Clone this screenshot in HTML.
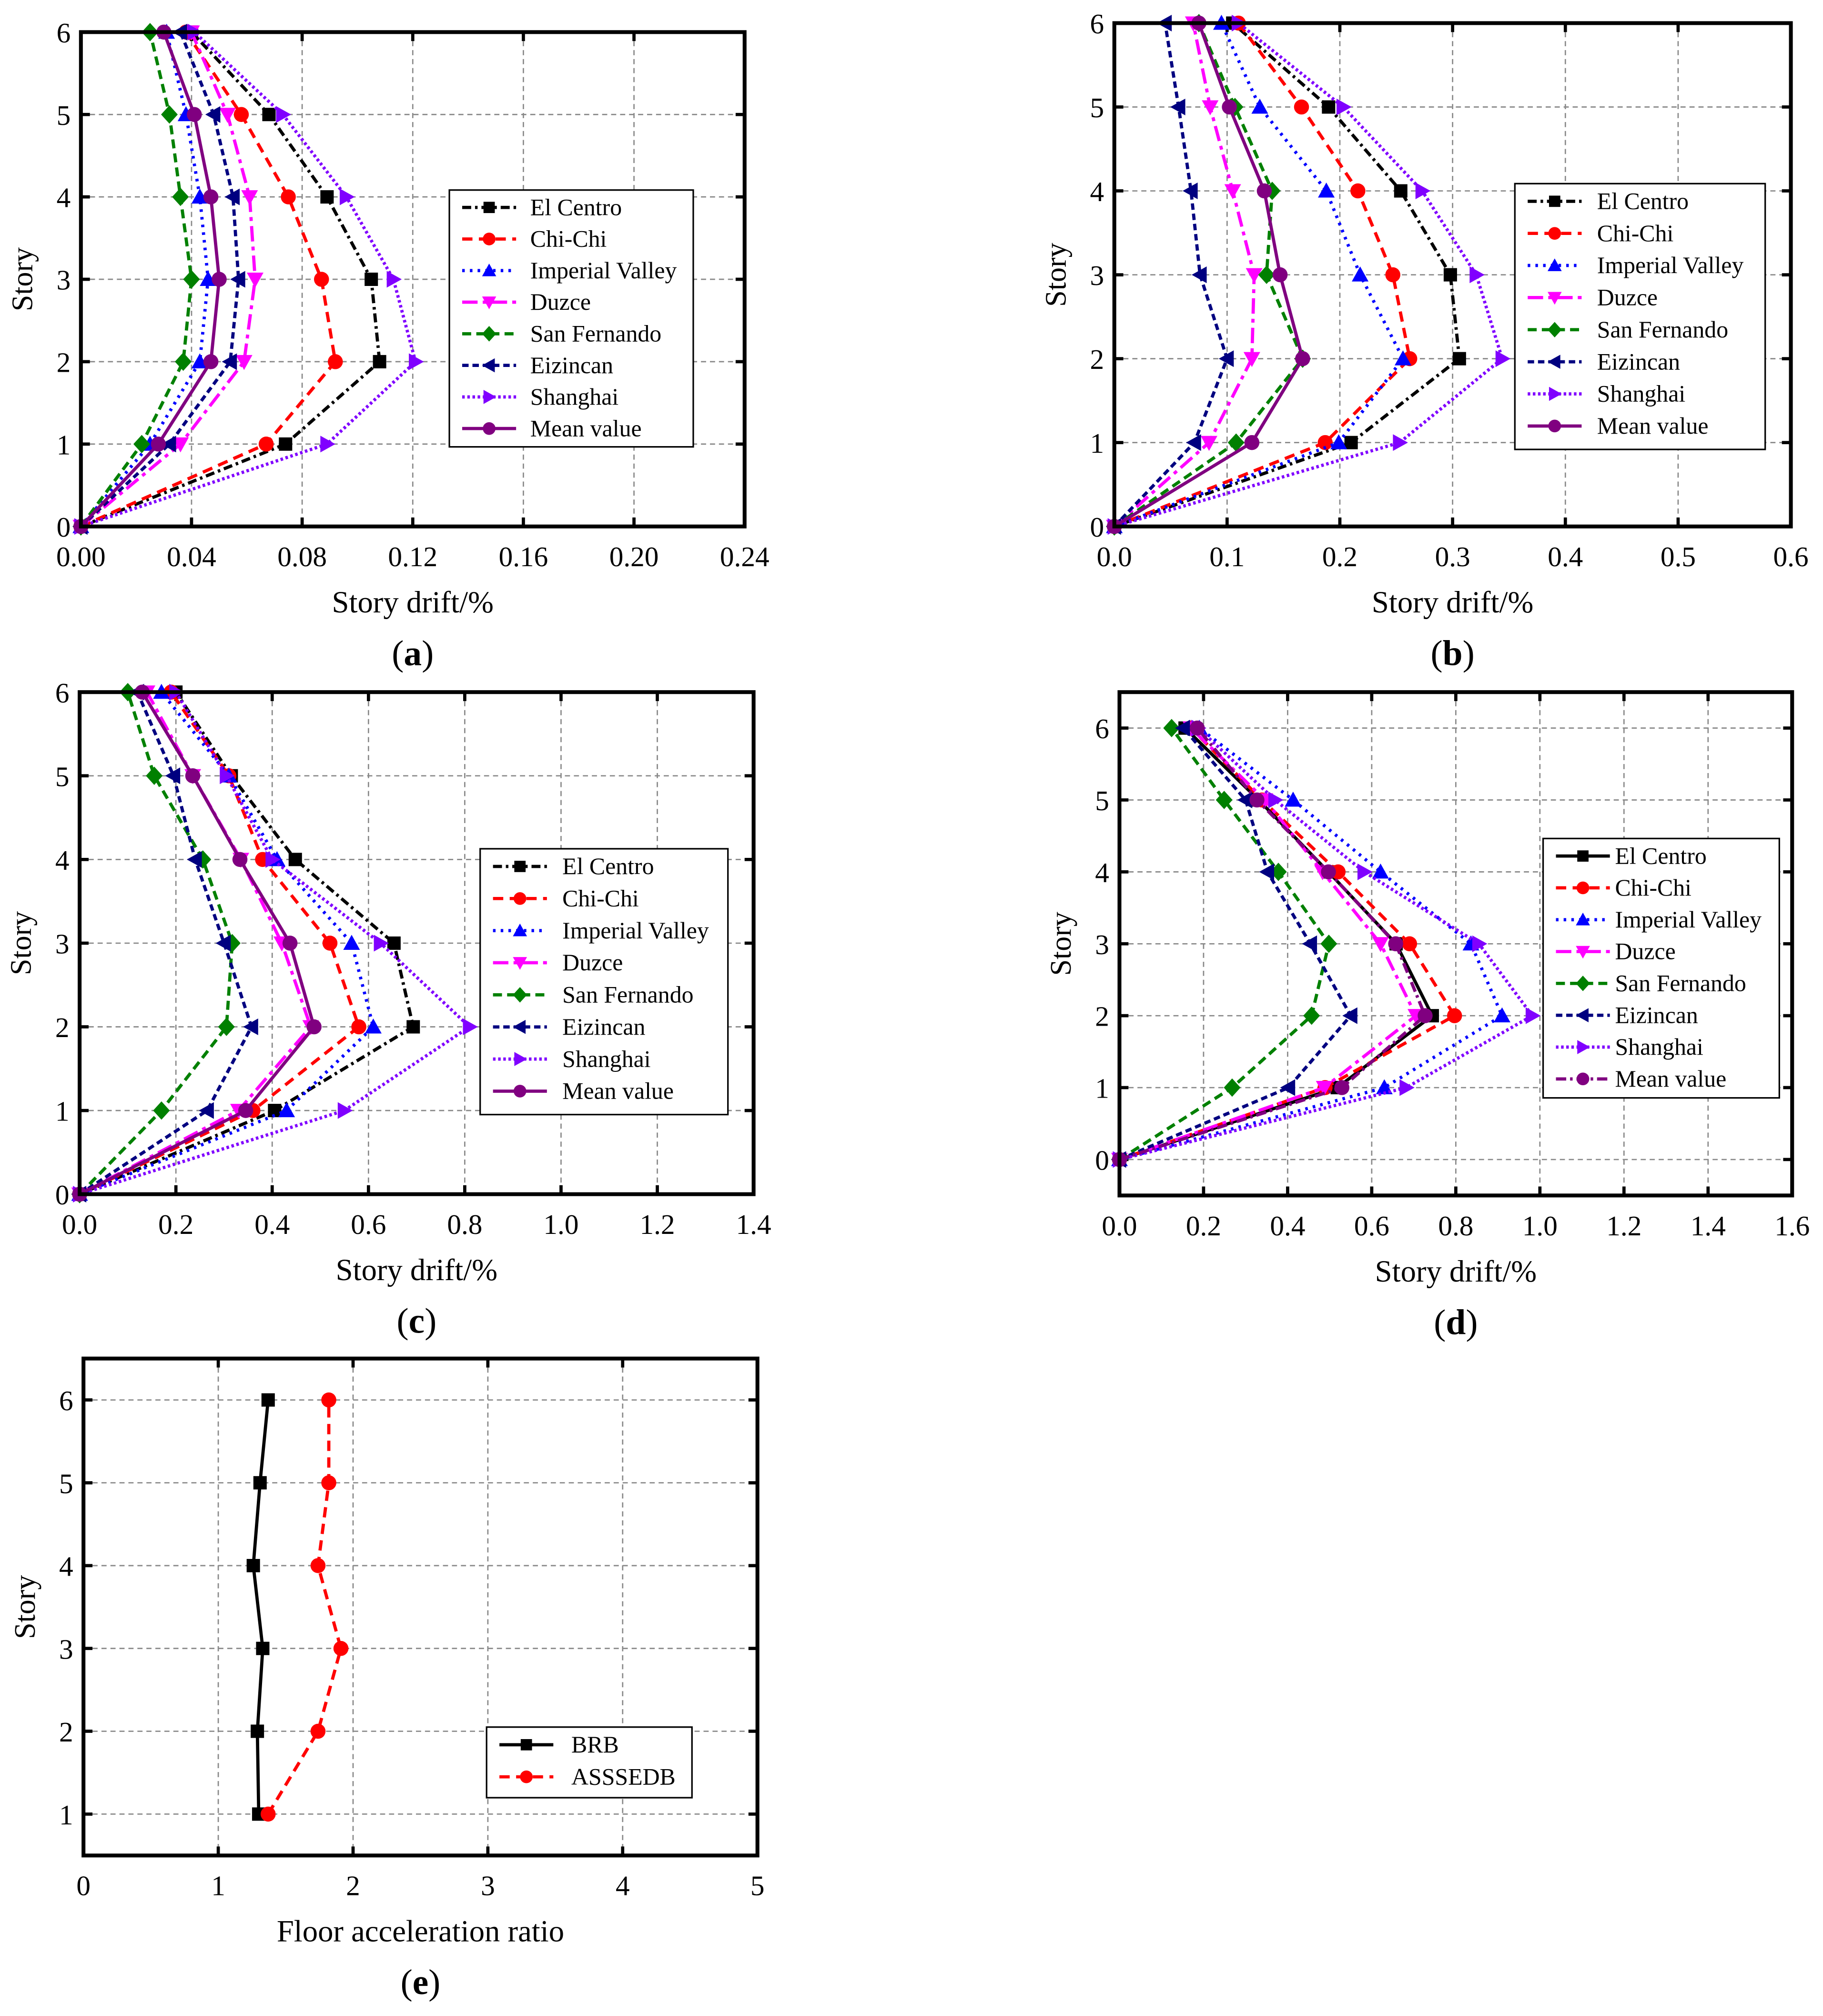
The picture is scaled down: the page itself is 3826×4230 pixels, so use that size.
<!DOCTYPE html>
<html><head><meta charset="utf-8">
<style>
html,body{margin:0;padding:0;background:#fff;}
svg{display:block;font-family:"Liberation Serif",serif;}
</style></head>
<body>
<svg id="fig" xmlns="http://www.w3.org/2000/svg" width="3826" height="4230" viewBox="0 0 1420 1570"></svg>
<script>
const stories=[0,1,2,3,4,5,6];
const seriesNames=["El Centro","Chi-Chi","Imperial Valley","Duzce","San Fernando","Eizincan","Shanghai","Mean value"];
const aElCentro=[0,0.074,0.108,0.105,0.089,0.068,0.040];
const aChiChi=[0,0.067,0.092,0.087,0.075,0.058,0.038];
const aImperial=[0,0.025,0.043,0.046,0.043,0.038,0.031];
const aDuzce=[0,0.036,0.059,0.063,0.061,0.053,0.040];
const aSanFernando=[0,0.022,0.037,0.040,0.036,0.032,0.025];
const aEizincan=[0,0.032,0.054,0.057,0.055,0.048,0.036];
const aShanghai=[0,0.089,0.121,0.113,0.096,0.073,0.041];
const aMean=[0,0.028,0.047,0.050,0.047,0.041,0.030];
const bElCentro=[0,0.21,0.306,0.298,0.254,0.19,0.105];
const bChiChi=[0,0.187,0.262,0.247,0.216,0.166,0.11];
const bImperial=[0,0.199,0.256,0.218,0.188,0.129,0.095];
const bDuzce=[0,0.084,0.122,0.124,0.105,0.085,0.07];
const bSanFernando=[0,0.108,0.167,0.135,0.14,0.107,0.075];
const bEizincan=[0,0.071,0.100,0.076,0.068,0.057,0.045];
const bShanghai=[0,0.253,0.344,0.321,0.273,0.203,0.11];
const bMean=[0,0.122,0.167,0.147,0.133,0.102,0.075];
const cElCentro=[0,0.405,0.693,0.653,0.448,0.315,0.2];
const cChiChi=[0,0.36,0.58,0.52,0.38,0.31,0.19];
const cImperial=[0,0.43,0.61,0.565,0.41,0.31,0.17];
const cDuzce=[0,0.33,0.48,0.42,0.335,0.235,0.14];
const cSanFernando=[0,0.17,0.305,0.317,0.256,0.155,0.10];
const cEizincan=[0,0.265,0.357,0.30,0.24,0.195,0.12];
const cShanghai=[0,0.55,0.81,0.625,0.40,0.305,0.2];
const cMean=[0,0.345,0.487,0.437,0.333,0.235,0.13];
const dElCentro=[0,0.518,0.744,0.658,0.497,0.331,0.156];
const dChiChi=[0,0.489,0.797,0.69,0.52,0.339,0.17];
const dImperial=[0,0.63,0.91,0.836,0.621,0.413,0.19];
const dDuzce=[0,0.487,0.705,0.621,0.483,0.346,0.17];
const dSanFernando=[0,0.268,0.457,0.498,0.378,0.249,0.124];
const dEizincan=[0,0.402,0.55,0.454,0.352,0.30,0.152];
const dShanghai=[0,0.682,0.982,0.855,0.582,0.37,0.187];
const dMean=[0,0.529,0.727,0.657,0.497,0.327,0.185];
const eStories=[1,2,3,4,5,6];
const eNames=["BRB","ASSSEDB"];
const eBRB=[1.30,1.29,1.33,1.26,1.31,1.37];
const eASSSEDB=[1.37,1.74,1.91,1.74,1.82,1.82];
const ticksA=["0.00","0.04","0.08","0.12","0.16","0.20","0.24"];
const ticksB=["0.0","0.1","0.2","0.3","0.4","0.5","0.6"];
const ticksC=["0.0","0.2","0.4","0.6","0.8","1.0","1.2","1.4"];
const ticksD=["0.0","0.2","0.4","0.6","0.8","1.0","1.2","1.4","1.6"];
const ticksE=["0","1","2","3","4","5"];
const yTicks=["0","1","2","3","4","5","6"];

const NS="http://www.w3.org/2000/svg";
const svg=document.getElementById('fig');
function mk(tag,attrs,parent){const e=document.createElementNS(NS,tag);for(const k in attrs)e.setAttribute(k,attrs[k]);(parent||svg).appendChild(e);return e;}

const colors=["#000","#ff0000","#0000ff","#ff00ff","#008000","#000080","#8000ff","#800080"];
const dashes=["7,3,2,3","8,5","2,4","12,4,3,4","7,4","5,3","2,2",""];
const markers=["sq","ci","tu","td","di","tl","tr","hx"];

function marker(g,type,x,y,c,s){
  s=s||6.5;let e;
  if(type==="sq")e=mk('rect',{x:x-s*0.8,y:y-s*0.8,width:s*1.6,height:s*1.6,fill:c},g);
  else if(type==="ci"||type==="hx")e=mk('circle',{cx:x,cy:y,r:s*0.9,fill:c},g);
  else{let p;
    if(type==="tu")p=[[x,y-s],[x+s,y+s*0.8],[x-s,y+s*0.8]];
    if(type==="td")p=[[x,y+s],[x+s,y-s*0.8],[x-s,y-s*0.8]];
    if(type==="tl")p=[[x-s,y],[x+s*0.8,y-s],[x+s*0.8,y+s]];
    if(type==="tr")p=[[x+s,y],[x-s*0.8,y-s],[x-s*0.8,y+s]];
    if(type==="di")p=[[x,y-s*1.1],[x+s,y],[x,y+s*1.1],[x-s,y]];
    e=mk('polygon',{points:p.map(q=>q.join(',')).join(' '),fill:c},g);}
  return e;
}

function panel(cfg){
  const g=mk('g',{});
  
  
  const {x0,x1,y0,y1,xmin,xmax,ymin,ymax}=cfg;
  const X=v=>x0+(v-xmin)/(xmax-xmin)*(x1-x0);
  const Y=v=>y0-(v-ymin)/(ymax-ymin)*(y0-y1);
  cfg.xt.forEach((t,i)=>{const v=parseFloat(t);const px=X(v);
    if(i>0&&i<cfg.xt.length-1)mk('line',{x1:px,y1:y1,x2:px,y2:y0,stroke:"#888","stroke-width":1,"stroke-dasharray":"4,3"},g);
    mk('line',{x1:px,y1:y0,x2:px,y2:y0-7,stroke:"#000","stroke-width":2.5},g);
    mk('line',{x1:px,y1:y1,x2:px,y2:y1+7,stroke:"#000","stroke-width":2.5},g);
    const tl=mk('text',{x:px,y:y0+31,"text-anchor":"middle","font-size":22},g);tl.textContent=t;
    
    
  });
  cfg.yt.forEach(t=>{const v=parseFloat(t);const py=Y(v);
    if(v>ymin+0.01&&v<ymax-0.01)mk('line',{x1:x0,y1:py,x2:x1,y2:py,stroke:"#888","stroke-width":1,"stroke-dasharray":"4,3"},g);
    mk('line',{x1:x0,y1:py,x2:x0+7,y2:py,stroke:"#000","stroke-width":2.5},g);
    mk('line',{x1:x1,y1:py,x2:x1-7,y2:py,stroke:"#000","stroke-width":2.5},g);
    const tl=mk('text',{x:x0-8,y:py+8,"text-anchor":"end","font-size":22},g);tl.textContent=t;
    
    
  });
  cfg.series.forEach((s,i)=>{
    const sg=mk('g',{},g);
    
    
    const pts=s.vals.map((v,k)=>X(v)+','+Y(s.ys[k])).join(' ');
    mk('polyline',{points:pts,fill:"none",stroke:s.c,"stroke-width":2.5,"stroke-dasharray":s.d},sg);
    s.vals.forEach((v,k)=>{const m=marker(sg,s.m,X(v),Y(s.ys[k]),s.c);
      
      });
  });
  mk('rect',{x:x0,y:y1,width:x1-x0,height:y0-y1,fill:"none",stroke:"#000","stroke-width":3},g);
  const L=cfg.leg;
  const lg=mk('g',{},g);
  
  
  mk('rect',{x:L.x,y:L.y,width:L.w,height:L.h,fill:"#fff",stroke:"#000","stroke-width":1.2},lg);
  cfg.series.forEach((s,i)=>{const yy=L.y+L.dy*(i+0.55);
    const e=mk('g',{},lg);
    
    
    mk('line',{x1:L.x+10,y1:yy,x2:L.x+52,y2:yy,stroke:s.c,"stroke-width":2.5,"stroke-dasharray":s.d},e);
    marker(e,s.m,L.x+31,yy,s.c,5.5);
    const t=mk('text',{x:L.x+L.tx,y:yy+6,"font-size":18.5},e);t.textContent=s.label;});
  const yt=mk('text',{x:0,y:0,"font-size":23,"text-anchor":"middle",transform:`translate(${x0-38},${(y0+y1)/2}) rotate(-90)`},g);yt.textContent="Story";
  
  
  const xt=mk('text',{x:(x0+x1)/2,y:y0+67,"font-size":24,"text-anchor":"middle"},g);xt.textContent=cfg.xtitle;
  
  
  const pl=mk('text',{x:(x0+x1)/2,y:y0+108,"font-size":28,"text-anchor":"middle"},g);
  pl.textContent="(";const b=mk('tspan',{"font-weight":"bold"},pl);b.textContent=cfg.letter;pl.appendChild(document.createTextNode(")"));
  
  
}
function mkSeries(arrs,ys,names){return arrs.map((v,i)=>({vals:v,ys:ys,label:names[i],c:colors[i],d:dashes[i],m:markers[i]}));}

panel({name:'panel-a',letter:'a',x0:63,x1:580,y0:410,y1:25,xmin:0,xmax:0.24,ymin:0,ymax:6,xt:ticksA,yt:yTicks,xtitle:"Story drift/%",
  series:mkSeries([aElCentro,aChiChi,aImperial,aDuzce,aSanFernando,aEizincan,aShanghai,aMean],stories,seriesNames),
  leg:{x:350,y:148,w:190,h:200,dy:24.6,tx:63}});
panel({name:'panel-b',letter:'b',x0:868,x1:1395,y0:410,y1:18,xmin:0,xmax:0.6,ymin:0,ymax:6,xt:ticksB,yt:yTicks,xtitle:"Story drift/%",
  series:mkSeries([bElCentro,bChiChi,bImperial,bDuzce,bSanFernando,bEizincan,bShanghai,bMean],stories,seriesNames),
  leg:{x:1180,y:143,w:195,h:207,dy:25,tx:64}});
panel({name:'panel-c',letter:'c',x0:62,x1:587,y0:930,y1:539,xmin:0,xmax:1.4,ymin:0,ymax:6,xt:ticksC,yt:yTicks,xtitle:"Story drift/%",
  series:mkSeries([cElCentro,cChiChi,cImperial,cDuzce,cSanFernando,cEizincan,cShanghai,cMean],stories,seriesNames),
  leg:{x:374,y:661,w:193,h:207,dy:25,tx:64}});
const dSeries=mkSeries([dElCentro,dChiChi,dImperial,dDuzce,dSanFernando,dEizincan,dShanghai,dMean],stories,seriesNames);
dSeries[0].d="";dSeries[7].d="8,3,2,3";
panel({name:'panel-d',letter:'d',x0:872,x1:1396,y0:931,y1:539,xmin:0,xmax:1.6,ymin:-0.5,ymax:6.5,xt:ticksD,yt:yTicks,xtitle:"Story drift/%",
  series:dSeries,leg:{x:1202,y:653,w:184,h:202,dy:24.8,tx:56}});
const eSeries=[{vals:eBRB,ys:eStories,label:eNames[0],c:"#000",d:"",m:"sq"},{vals:eASSSEDB,ys:eStories,label:eNames[1],c:"#ff0000",d:"8,5",m:"ci"}];
panel({name:'panel-e',letter:'e',x0:65,x1:590,y0:1445,y1:1058,xmin:0,xmax:5,ymin:0.5,ymax:6.5,xt:ticksE,yt:["1","2","3","4","5","6"],xtitle:"Floor acceleration ratio",
  series:eSeries,leg:{x:379,y:1345,w:160,h:55,dy:25,tx:66}});
</script>
</body></html>
